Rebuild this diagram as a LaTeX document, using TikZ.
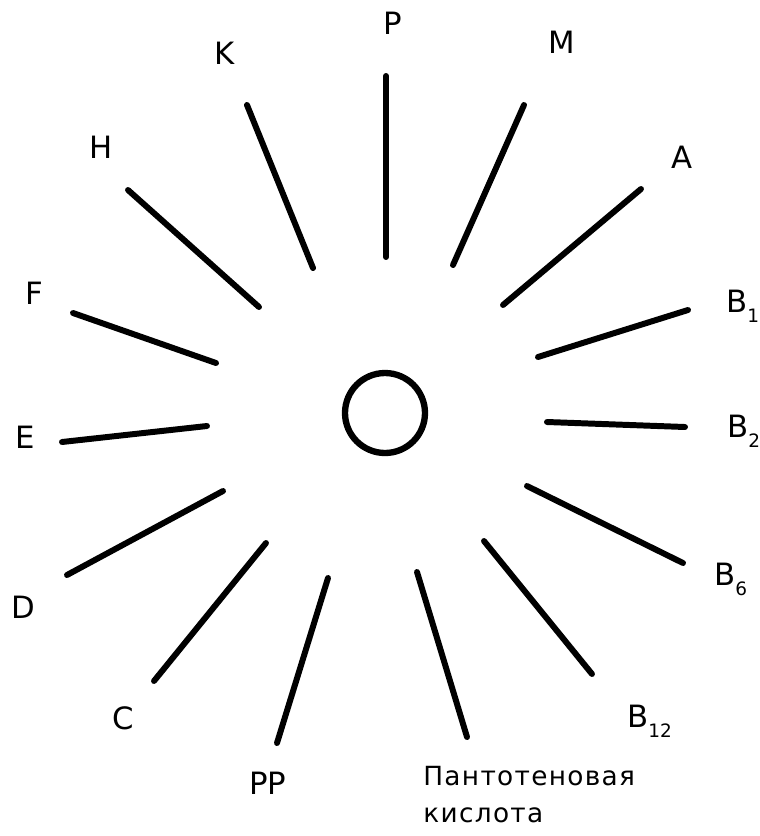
\documentclass[tikz,border=0pt]{standalone}
\usepackage{fontspec}
\setmainfont{DejaVu Sans}
\newfontfamily\cyrfont[LetterSpace=5]{DejaVu Sans}
\newcommand{\vsub}[1]{\raisebox{-6pt}{\fontsize{10.5}{10.5}\selectfont #1}}

\begin{document}
\begin{tikzpicture}[
            x=0.02cm, y=-0.02cm,
            ray/.style={line width=3.4pt, line cap=round},
            lbl/.style={font=\fontsize{17.5}{20}\selectfont, inner sep=0pt},
        ]
        \useasboundingbox (0,0) rectangle (760,836);
        % central ring
        \node[draw, circle, line width=3.6pt, minimum size=1.6cm, inner sep=0pt] (core) at (385,413) {};
        % rays, clockwise from the top
        \draw[ray] (386,257) -- (386,76);
        \draw[ray] (453,265) -- (524,105);
        \draw[ray] (503,305) -- (641,189);
        \draw[ray] (538,357) -- (688,310);
        \draw[ray] (547,422) -- (685,427);
        \draw[ray] (527,486) -- (683,563);
        \draw[ray] (484,541) -- (592,674);
        \draw[ray] (417,572) -- (467,737);
        \draw[ray] (328,578) -- (277,743);
        \draw[ray] (266,543) -- (154,681);
        \draw[ray] (223,491) -- (67,575);
        \draw[ray] (207,426) -- (62,442);
        \draw[ray] (216,363) -- (73,313);
        \draw[ray] (259,307) -- (128,190);
        \draw[ray] (313,268) -- (247,105);
        % vitamin labels
        \node[lbl] (vP) at (393,23) {P};
        \node[lbl] (vM) at (562,42) {M};
        \node[lbl] (vA) at (682,157) {A};
        \node[lbl, anchor=base west] (vB1) at (726,312) {B\vsub{1}};
        \node[lbl, anchor=base west] (vB2) at (727,437) {B\vsub{2}};
        \node[lbl, anchor=base west] (vB6) at (714,585) {B\vsub{6}};
        \node[lbl, anchor=base west] (vB12) at (627,727) {B\vsub{12}};
        \node[anchor=west, align=left, inner sep=0pt, font=\cyrfont\fontsize{15}{21}\selectfont] (vPant) at (423,795) {Пантотеновая\\кислота};
        \node[lbl] (vPP) at (268,783) {PP};
        \node[lbl] (vC) at (123,718) {C};
        \node[lbl] (vD) at (23,607) {D};
        \node[lbl] (vE) at (25,437) {E};
        \node[lbl] (vF) at (34,293) {F};
        \node[lbl] (vH) at (101,147) {H};
        \node[lbl] (vK) at (225,53) {K};
    \end{tikzpicture}
\end{document}
